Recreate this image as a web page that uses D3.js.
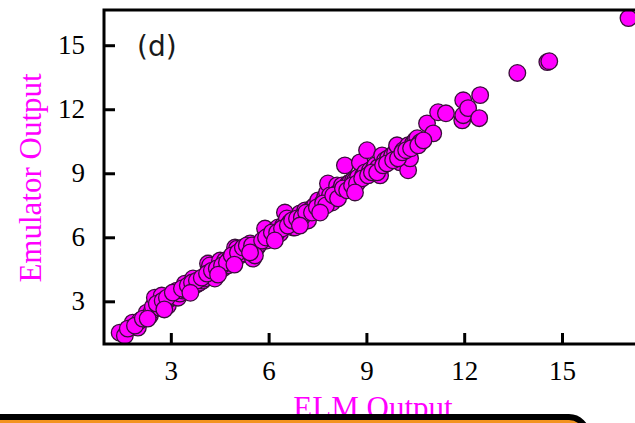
<!DOCTYPE html>
<meta charset="utf-8">
<style>
    body { margin: 0; background: #fff; }
    svg { display: block; }
    .tick text { font-family: "Liberation Serif", "DejaVu Serif", serif; font-size: 27px; fill: #000; }
</style>
<svg width="635" height="423"></svg>
<script src="https://d3js.org/d3.v7.min.js"></script>
<script>
    // ELM output (x) vs emulator output (y)
    var elm = [1.43, 1.59, 1.83, 1.99, 2.05, 2.20, 2.26, 2.36, 2.42, 2.45, 2.51, 2.60, 2.66, 2.72, 2.82, 2.91, 2.97, 3.03, 3.12, 3.18,
        3.22, 3.28, 3.37, 3.43, 3.49, 3.58, 3.68, 3.74, 3.83, 3.89, 3.98, 4.04, 4.14, 4.20, 4.29, 4.35, 4.44, 4.51, 4.60, 4.66,
        4.75, 4.81, 4.90, 4.97, 5.03, 5.12, 5.18, 5.27, 5.36, 5.43, 5.52, 5.58, 5.64, 5.67, 5.73, 5.83, 5.89, 5.95, 5.98, 6.04,
        6.13, 6.19, 6.29, 6.35, 6.44, 6.50, 6.56, 6.65, 6.75, 6.81, 6.90, 6.96, 7.06, 7.12, 7.21, 7.27, 7.36, 7.42, 7.52, 7.58,
        7.64, 7.73, 7.79, 7.82, 7.88, 7.95, 8.04, 8.10, 8.10, 8.19, 8.25, 8.34, 8.34, 8.44, 8.50, 8.59, 8.65, 8.74, 8.80, 8.90,
        8.96, 9.02, 9.11, 9.20, 9.27, 9.36, 9.42, 9.48, 9.57, 9.66, 9.73, 9.79, 9.88, 9.94, 10.03, 10.13, 10.19, 10.28, 10.28, 10.34,
        10.43, 10.50, 10.56, 10.65, 10.86, 11.05, 11.20, 11.44, 11.94, 11.97, 11.97, 12.12, 12.46, 12.49, 13.63, 14.55, 14.61, 17.04,
        1.68, 1.90, 2.14, 2.29, 2.57, 2.75, 2.88, 3.06, 3.34, 3.52, 3.65, 3.80, 3.95, 4.11, 4.26, 4.41, 4.57, 4.72, 4.87, 5.06,
        5.21, 5.33, 5.49, 5.80, 5.92, 6.10, 6.26, 6.41, 6.59, 6.72, 6.87, 7.02, 7.15, 7.33, 7.48, 7.67, 7.76, 7.98, 8.13, 8.28,
        8.41, 8.56, 8.71, 8.87, 9.05, 9.17, 9.33, 9.51, 9.63, 9.82, 9.97, 10.10, 10.22, 10.37, 10.59, 10.75,
        5.58, 6.19, 6.96, 7.58, 8.65, 5.43, 2.80, 3.60, 4.45, 4.95];
    var emulator = [1.53, 1.39, 2.00, 1.77, 2.09, 2.23, 2.47, 2.33, 2.56, 2.75, 3.17, 2.80, 2.70, 3.27, 3.03, 2.80, 3.13, 3.17, 3.27, 3.50,
        3.17, 3.36, 3.50, 3.83, 3.50, 3.64, 4.07, 3.74, 3.83, 3.88, 3.97, 4.07, 4.77, 4.68, 4.30, 4.07, 4.44, 4.91, 4.54, 4.91,
        4.68, 5.00, 5.00, 5.52, 5.47, 5.15, 5.24, 5.38, 5.38, 5.71, 5.00, 5.52, 5.52, 5.62, 5.71, 5.85, 6.41, 5.85, 6.04, 6.08,
        6.08, 6.32, 6.46, 6.18, 6.55, 7.16, 6.88, 6.69, 6.46, 6.46, 6.79, 7.12, 7.02, 7.26, 6.79, 7.26, 7.40, 7.49, 7.73, 7.40,
        7.59, 7.87, 8.10, 8.52, 7.96, 7.63, 7.96, 8.43, 8.06, 8.20, 8.43, 9.37, 8.20, 8.52, 8.57, 8.67, 8.67, 8.81, 9.51, 8.90,
        9.04, 10.08, 9.14, 9.14, 9.37, 9.28, 8.90, 9.84, 9.61, 9.70, 9.61, 9.84, 9.98, 10.31, 9.51, 10.08, 9.84, 10.31, 9.14, 9.70,
        10.40, 10.54, 10.64, 10.45, 11.34, 10.87, 11.86, 11.81, 11.48, 12.42, 11.72, 12.05, 11.58, 12.66, 13.70, 14.21, 14.25, 16.27,
        1.72, 1.86, 2.19, 2.19, 2.89, 3.03, 3.17, 3.41, 3.60, 3.74, 3.88, 3.97, 4.11, 4.30, 4.44, 4.54, 4.68, 4.82, 5.15, 5.29,
        5.52, 5.62, 5.62, 5.85, 5.99, 6.23, 6.23, 6.41, 6.55, 6.79, 6.88, 6.93, 7.16, 7.16, 7.40, 7.59, 7.49, 7.96, 7.82, 8.29,
        8.20, 8.43, 8.52, 8.76, 8.90, 9.04, 9.04, 9.37, 9.46, 9.61, 9.70, 9.98, 10.08, 10.17, 10.31, 10.54,
        5.15, 5.85, 6.55, 7.16, 8.10, 5.29, 2.62, 3.40, 4.25, 4.72];
    var tickValues = [3, 6, 9, 12, 15];

    var svg = d3.select("svg");
    var x = d3.scaleLinear().domain([0.95, 17.7]).range([104, 650]);
    var y = d3.scaleLinear().domain([1.0, 16.65]).range([344, 10]);

    var points = elm.map(function (d, i) { return [d, emulator[i]]; });

    svg.append("g")
        .selectAll("circle")
        .data(points)
        .enter().append("circle")
        .attr("cx", function (d) { return x(d[0]); })
        .attr("cy", function (d) { return y(d[1]); })
        .attr("r", 8.3)
        .style("fill", "#ff00ff")
        .style("stroke", "#3a0f3a")
        .style("stroke-width", 1.3);

    svg.append("g")
        .attr("transform", "translate(0,344)")
        .call(d3.axisBottom(x).tickValues(tickValues).tickSize(-11).tickPadding(17).tickFormat(d3.format("d")));
    svg.append("g")
        .attr("transform", "translate(104,0)")
        .call(d3.axisLeft(y).tickValues(tickValues).tickSize(-11).tickPadding(19).tickFormat(d3.format("d")));
    svg.selectAll(".domain").remove();
    svg.selectAll(".tick line").style("stroke", "#000").style("stroke-width", 3);
    svg.selectAll(".tick text").attr("font-family", null).attr("font-size", null);

    // frame (right side falls off the canvas)
    svg.append("rect")
        .attr("x", x(0.95)).attr("y", y(16.65))
        .attr("width", x(17.7) - x(0.95)).attr("height", y(1.0) - y(16.65))
        .style("fill", "none").style("stroke", "#000").style("stroke-width", 3);

    svg.append("text")
        .attr("x", 137).attr("y", 56)
        .style("font-family", "DejaVu Sans, sans-serif")
        .style("font-size", "28px")
        .style("fill", "#1a1a1a")
        .text("(d)");

    svg.append("text")
        .attr("transform", "translate(41," + ((y(1.0) + y(16.65)) / 2 + 1) + ") rotate(-90)")
        .attr("text-anchor", "middle")
        .style("font-family", "Liberation Serif, serif")
        .style("font-size", "31px")
        .style("fill", "#ff00ff")
        .text("Emulator Output");

    svg.append("text")
        .attr("x", 373).attr("y", 418)
        .attr("text-anchor", "middle")
        .style("font-family", "Liberation Serif, serif")
        .style("font-size", "31px")
        .style("fill", "#ff00ff")
        .text("ELM Output");

    // orange caption box overlapping the bottom edge
    svg.append("rect")
        .attr("x", -20).attr("y", 417)
        .attr("width", 607).attr("height", 40)
        .attr("rx", 18)
        .style("fill", "#f39320")
        .style("stroke", "#000")
        .style("stroke-width", 6);
</script>
